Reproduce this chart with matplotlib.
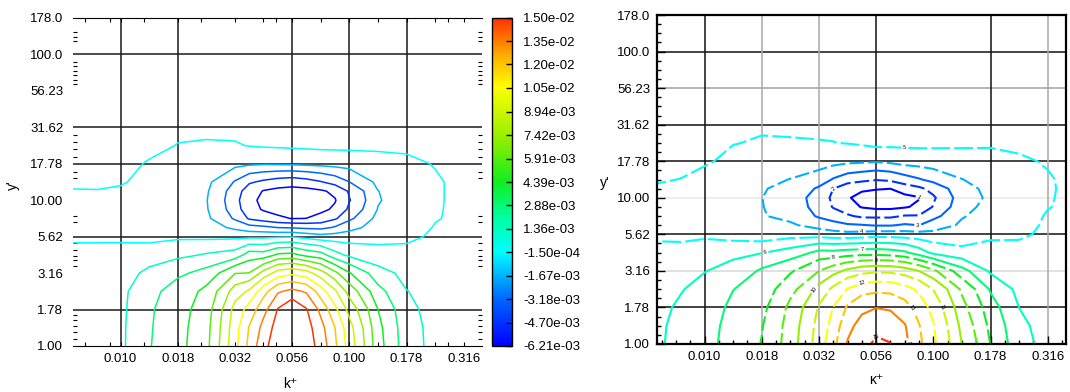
import numpy as np
import matplotlib.pyplot as plt
from matplotlib.colors import LinearSegmentedColormap, Normalize
from matplotlib.cm import ScalarMappable
from matplotlib.ticker import NullFormatter

plt.rcParams['font.family'] = ['Liberation Sans', 'DejaVu Sans']

# contour levels = colorbar ticks
levels = [-6.21e-3, -4.70e-3, -3.18e-3, -1.67e-3, -1.50e-4, 1.36e-3, 2.88e-3,
          4.39e-3, 5.91e-3, 7.42e-3, 8.94e-3, 1.05e-2, 1.20e-2, 1.35e-2, 1.50e-2]

x_labels = ['0.010', '0.018', '0.032', '0.056', '0.100', '0.178', '0.316']
y_labels = ['1.00', '1.78', '3.16', '5.62', '10.00', '17.78', '31.62', '56.23', '100.0', '178.0']

# sample grid (log10 k+, log10 y+)
logk = [-2.25, -2.1, -2.0, -1.875, -1.75, -1.625, -1.5, -1.4375, -1.375, -1.3125,
        -1.25, -1.1875, -1.125, -1.0625, -1.0, -0.875, -0.75, -0.625, -0.5, -0.4]
logy = [0, 0.125, 0.25, 0.375, 0.5, 0.625, 0.75, 0.8125, 0.875, 0.9375,
        1.0, 1.0625, 1.125, 1.25, 1.375, 1.5, 1.75, 2.0, 2.25]

# field, x1e-3, one list per k column (y from bottom to top)
left_cols = [
    [0.3, 0.3, 0.3, 0.3, 0.25, 0.1, -0.3, -0.45, -0.5, -0.45, -0.3, -0.2, 0.0, 0.1, 0.1, 0.1, 0.1, 0.1, 0.1],
    [0.6, 0.6, 0.6, 0.6, 0.5, 0.2, -0.35, -0.5, -0.6, -0.57, -0.45, -0.2, 0.1, 0.1, 0.1, 0.1, 0.1, 0.1, 0.1],
    [1.1, 1.1, 1.05, 1.0, 0.8, 0.3, -0.4, -0.65, -0.8, -0.8, -0.7, -0.35, 0.0, 0.15, 0.15, 0.1, 0.1, 0.1, 0.1],
    [2.8, 2.75, 2.7, 2.5, 1.7, 0.6, -0.6, -0.9, -1.1, -1.1, -1.0, -0.85, -0.7, -0.25, 0.2, 0.15, 0.15, 0.1, 0.1],
    [3.95, 3.9, 3.8, 3.5, 2.6, 1.0, -0.4, -0.9, -1.2, -1.3, -1.3, -1.15, -1.0, -0.6, -0.2, 0.2, 0.2, 0.15, 0.1],
    [5.5, 5.4, 5.2, 4.8, 3.4, 1.5, -0.5, -1.0, -1.4, -1.55, -1.6, -1.5, -1.35, -0.8, -0.3, 0.2, 0.2, 0.15, 0.1],
    [10.1, 9.9, 9.5, 8.14, 5.85, 1.97, -0.5, -2.0, -3.4, -4.0, -4.2, -4.0, -3.3, -1.2, -0.25, 0.2, 0.2, 0.15, 0.1],
    [12.43, 12.1, 11.12, 9.2, 5.95, 3.61, -0.5, -2.6, -4.9, -5.7, -5.9, -5.5, -4.5, -1.4, -0.1, 0.22, 0.2, 0.15, 0.1],
    [14.6, 14.0, 13.0, 11.44, 7.98, 3.48, -0.5, -2.8, -5.5, -6.35, -6.5, -6.3, -5.0, -1.5, 0.0, 0.25, 0.2, 0.15, 0.1],
    [15.9, 15.7, 15.1, 13.3, 9.61, 4.65, -0.4, -3.2, -6.0, -6.6, -6.8, -6.6, -5.4, -1.45, 0.05, 0.25, 0.2, 0.15, 0.1],
    [16.4, 16.4, 16.3, 13.9, 10.12, 4.82, -0.3, -3.3, -6.25, -6.7, -6.9, -6.7, -5.6, -1.4, 0.1, 0.25, 0.2, 0.15, 0.1],
    [15.8, 15.6, 15.1, 13.3, 9.57, 3.94, -0.7, -3.5, -6.2, -6.7, -6.9, -6.65, -5.3, -1.3, 0.15, 0.25, 0.2, 0.15, 0.1],
    [14.4, 14.0, 13.1, 11.2, 8.05, 3.48, -1.1, -3.6, -5.8, -6.5, -6.7, -6.4, -4.8, -1.2, 0.2, 0.25, 0.2, 0.15, 0.1],
    [12.27, 12.0, 10.86, 9.17, 6.27, 1.88, -1.0, -3.0, -4.9, -6.0, -6.3, -5.9, -4.1, -1.1, 0.2, 0.25, 0.2, 0.15, 0.1],
    [9.8, 9.5, 8.42, 6.78, 4.5, 1.0, -0.9, -2.2, -3.5, -4.4, -4.8, -4.5, -3.2, -1.0, 0.2, 0.25, 0.2, 0.15, 0.1],
    [4.96, 4.8, 4.4, 3.36, 1.94, 0.36, -0.6, -0.9, -1.2, -1.6, -1.8, -1.7, -1.3, -0.6, 0.1, 0.2, 0.2, 0.15, 0.1],
    [1.97, 1.9, 1.7, 1.4, 0.9, 0.2, -0.4, -0.5, -0.6, -0.65, -0.7, -0.68, -0.6, -0.35, 0.05, 0.15, 0.15, 0.1, 0.1],
    [0.9, 0.9, 0.85, 0.8, 0.6, 0.3, 0.05, -0.1, -0.2, -0.23, -0.25, -0.25, -0.25, -0.1, 0.05, 0.1, 0.1, 0.1, 0.1],
    [0.5, 0.5, 0.45, 0.4, 0.35, 0.25, 0.15, 0.1, 0.05, 0.08, 0.1, 0.1, 0.1, 0.05, 0.05, 0.1, 0.1, 0.1, 0.1],
    [0.3, 0.3, 0.3, 0.3, 0.25, 0.2, 0.15, 0.12, 0.1, 0.1, 0.1, 0.1, 0.1, 0.1, 0.1, 0.1, 0.1, 0.1, 0.1],
]

right_cols = [
    [1.0, 1.0, 0.95, 0.9, 0.6, 0.15, -0.35, -0.45, -0.5, -0.45, -0.35, -0.2, -0.05, 0.1, 0.1, 0.1, 0.1, 0.1, 0.1],
    [1.78, 1.7, 1.55, 1.3, 0.75, 0.15, -0.4, -0.52, -0.6, -0.57, -0.5, -0.35, -0.17, 0.1, 0.15, 0.15, 0.1, 0.1, 0.1],
    [2.48, 2.4, 2.2, 1.85, 1.3, 0.5, -0.4, -0.65, -0.8, -0.87, -0.9, -0.75, -0.5, 0.0, 0.15, 0.15, 0.1, 0.1, 0.1],
    [3.42, 3.35, 3.2, 2.85, 2.0, 0.9, -0.8, -1.0, -1.1, -1.15, -1.2, -1.1, -0.9, -0.5, -0.1, 0.15, 0.1, 0.1, 0.1],
    [4.45, 4.3, 4.0, 3.6, 3.1, 1.3, -1.2, -1.45, -1.6, -1.63, -1.65, -1.55, -1.4, -0.9, -0.3, 0.1, 0.15, 0.1, 0.1],
    [6.71, 6.6, 6.3, 5.4, 4.2, 2.0, -0.8, -1.5, -2.0, -2.3, -2.4, -2.2, -1.7, -0.9, -0.25, 0.1, 0.15, 0.1, 0.1],
    [9.74, 9.5, 9.1, 7.9, 5.9, 3.3, -0.9, -2.2, -3.4, -3.8, -3.9, -3.4, -2.4, -0.9, -0.2, 0.1, 0.15, 0.1, 0.1],
    [11.6, 11.07, 10.55, 9.29, 6.85, 3.27, -1.1, -2.6, -4.0, -4.8, -5.0, -4.7, -3.3, -1.1, -0.17, 0.1, 0.15, 0.1, 0.1],
    [13.6, 13.15, 12.2, 10.57, 7.76, 3.52, -1.2, -3.0, -4.5, -5.6, -6.1, -5.6, -4.0, -1.3, -0.1, 0.1, 0.15, 0.1, 0.1],
    [14.52, 13.95, 13.17, 11.36, 8.42, 3.64, -1.1, -3.1, -5.0, -6.3, -6.6, -6.0, -4.3, -1.4, 0.05, 0.12, 0.15, 0.1, 0.1],
    [15.3, 14.47, 13.46, 11.62, 8.66, 3.66, -0.9, -3.3, -5.0, -6.6, -7.0, -6.1, -4.6, -1.5, 0.3, 0.2, 0.15, 0.1, 0.1],
    [15.05, 14.33, 13.3, 11.53, 8.61, 3.52, -0.9, -3.3, -5.0, -6.6, -7.0, -6.2, -4.4, -1.3, 0.25, 0.2, 0.15, 0.1, 0.1],
    [13.87, 13.6, 12.58, 11.06, 8.18, 3.13, -1.0, -3.0, -4.6, -6.35, -6.6, -5.5, -3.8, -1.0, 0.2, 0.2, 0.15, 0.1, 0.1],
    [12.34, 12.08, 11.36, 10.17, 7.4, 2.09, -1.1, -3.2, -4.6, -5.9, -6.3, -5.0, -3.3, -0.9, 0.2, 0.2, 0.15, 0.1, 0.1],
    [10.78, 10.6, 9.98, 8.9, 6.21, 1.0, -1.2, -2.5, -3.6, -4.6, -4.9, -4.2, -2.7, -0.8, 0.15, 0.2, 0.15, 0.1, 0.1],
    [7.4, 7.0, 6.4, 5.62, 3.41, 0.2, -0.9, -1.4, -1.8, -2.1, -2.3, -2.1, -1.7, -0.7, 0.1, 0.2, 0.15, 0.1, 0.1],
    [4.35, 4.0, 3.5, 2.7, 1.1, 0.3, -0.4, -0.65, -0.9, -1.2, -1.4, -1.3, -1.1, -0.5, 0.0, 0.2, 0.15, 0.1, 0.1],
    [1.82, 1.65, 1.35, 0.9, 0.5, 0.15, -0.3, -0.45, -0.6, -0.7, -0.75, -0.7, -0.6, -0.3, 0.1, 0.15, 0.15, 0.1, 0.1],
    [0.9, 0.8, 0.7, 0.5, 0.35, 0.2, 0.05, 0.0, -0.05, -0.2, -0.25, -0.28, -0.25, -0.05, 0.1, 0.15, 0.1, 0.1, 0.1],
    [0.7, 0.65, 0.55, 0.45, 0.35, 0.25, 0.15, 0.12, 0.1, 0.1, 0.1, 0.1, 0.1, 0.1, 0.1, 0.1, 0.1, 0.1, 0.1],
]

# odd minor ticks of the left plot
left_yminor = [1.11, 1.25, 1.37, 1.50, 1.64, 3.52, 3.86, 4.17, 4.52, 5.05, 7.1, 7.8,
               14.1, 15.7, 19.9, 22.3, 24.9, 28.2, 63, 67, 72.6, 77.3, 83.7, 89, 123, 132, 142]
left_xminor = [0.007, 0.009, 0.0127, 0.0224, 0.042, 0.048, 0.075, 0.133, 0.237, 0.27]

K, Y = np.meshgrid(10 ** np.array(logk), 10 ** np.array(logy))
ZL = np.array(left_cols).T * 1e-3
ZR = np.array(right_cols).T * 1e-3

cmap = LinearSegmentedColormap.from_list('tec', [
    (0.0, '#0000ff'), (0.14, '#0064ff'), (0.286, '#00ffff'), (0.40, '#00ff99'),
    (0.5, '#10ee20'), (0.64, '#99ee00'), (0.79, '#ffff00'), (0.89, '#ffaa00'),
    (1.0, '#ff3300')])
norm = Normalize(vmin=levels[0], vmax=levels[-1])

xt = 10 ** np.arange(-2, -0.4, 0.25)
yt = 10 ** np.arange(0, 2.26, 0.25)

fig = plt.figure(figsize=(10.7, 3.92), dpi=100)
ax1 = fig.add_axes([73/1070, 1-346/392, 409/1070, 328/392])
cax = fig.add_axes([492/1070, 1-346/392, 20/1070, 328/392])
ax2 = fig.add_axes([657/1070, 1-344/392, 409/1070, 329/392])

for ax in (ax1, ax2):
    ax.set_xscale('log')
    ax.set_yscale('log')
    ax.set_xlim(10 ** -2.208, 10 ** -0.42)
    ax.set_ylim(1, 10 ** 2.25)
    ax.set_xticks(xt, x_labels, fontsize=9.5)
    ax.set_yticks(yt, y_labels, fontsize=9.5)
    ax.xaxis.set_minor_formatter(NullFormatter())
    ax.yaxis.set_minor_formatter(NullFormatter())

# ---- left plot
for i in [1, 3, 5, 6, 8]:
    ax1.axhline(yt[i], color='#1a1a1a', lw=1.1, zorder=1)
for i in [0, 1, 3, 4, 5]:
    ax1.axvline(xt[i], color='#1a1a1a', lw=1.1, zorder=1)
ax1.contour(K, Y, ZL, levels=levels, cmap=cmap, norm=norm, linewidths=1.1, zorder=2)
ax1.spines['left'].set_visible(False)
ax1.spines['right'].set_visible(False)
ax1.set_yticks(left_yminor, minor=True)
ax1.set_xticks(left_xminor, minor=True)
ax1.tick_params(which='both', direction='in', top=True, right=True, width=0.8)
ax1.tick_params(axis='y', which='major', length=0, pad=7)
ax1.tick_params(axis='x', which='major', length=3, pad=5)
ax1.tick_params(which='minor', length=3)
ax1.set_ylabel("y'", fontsize=10)
ax1.yaxis.set_label_coords(-0.13, 0.49)
ax1.set_xlabel('k⁺', fontsize=10)
ax1.xaxis.set_label_coords(0.53, -0.095)

# ---- colorbar
sm = ScalarMappable(norm=norm, cmap=cmap)
cb = fig.colorbar(sm, cax=cax, ticks=levels, format='%.2e')
cb.ax.tick_params(direction='in', length=4, width=1, left=True, right=True, labelsize=9.5, pad=8)
cb.ax.minorticks_off()
cb.outline.set_linewidth(1.0)

# ---- right plot
hgrid = {1: '#111111', 2: '#d8d8d8', 3: '#111111', 4: '#e8e8e8', 5: '#111111',
         6: '#111111', 7: '#a0a0a0', 8: '#111111'}
for i, c in hgrid.items():
    ax2.axhline(yt[i], color=c, lw=1.1, zorder=1)
vgrid = {0: '#111111', 1: '#a8a8a8', 2: '#a8a8a8', 3: '#111111', 5: '#111111', 6: '#a8a8a8'}
for i, c in vgrid.items():
    ax2.axvline(xt[i], color=c, lw=1.1, zorder=1)

styles = ['solid', (0, (7, 2)), 'solid', (0, (7, 2)), (0, (9, 2)), 'solid', 'solid',
          (0, (7, 2)), (0, (7, 2)), 'solid', (0, (7, 2)), (0, (7, 2)), (0, (6, 2)), 'solid', 'solid']
cs = ax2.contour(K, Y, ZR, levels=levels, cmap=cmap, norm=norm, linewidths=1.5,
                 linestyles=styles, zorder=2)
ax2.clabel(cs, fmt={lv: str(i + 1) for i, lv in enumerate(cs.levels)},
           fontsize=4, colors='k', inline=True, inline_spacing=2)
for s in ax2.spines.values():
    s.set_linewidth(1.6)
fine = np.arange(0, 2.25, 0.0625)
ax2.set_yticks(10 ** fine[fine % 0.25 != 0], minor=True)
finek = np.arange(-2.1875, -0.43, 0.0625)
ax2.set_xticks(10 ** finek[(finek * 4) % 1 != 0], minor=True)
ax2.tick_params(which='both', direction='in', width=1.0)
ax2.tick_params(which='major', length=6, pad=5)
ax2.tick_params(which='minor', length=3)
ax2.set_ylabel("y'", fontsize=10, rotation=0, ha='center', va='center')
ax2.yaxis.set_label_coords(-0.127, 0.49)
ax2.set_xlabel('κ⁺', fontsize=10)
ax2.xaxis.set_label_coords(0.535, -0.088)

fig.savefig('out.png', dpi=100)
